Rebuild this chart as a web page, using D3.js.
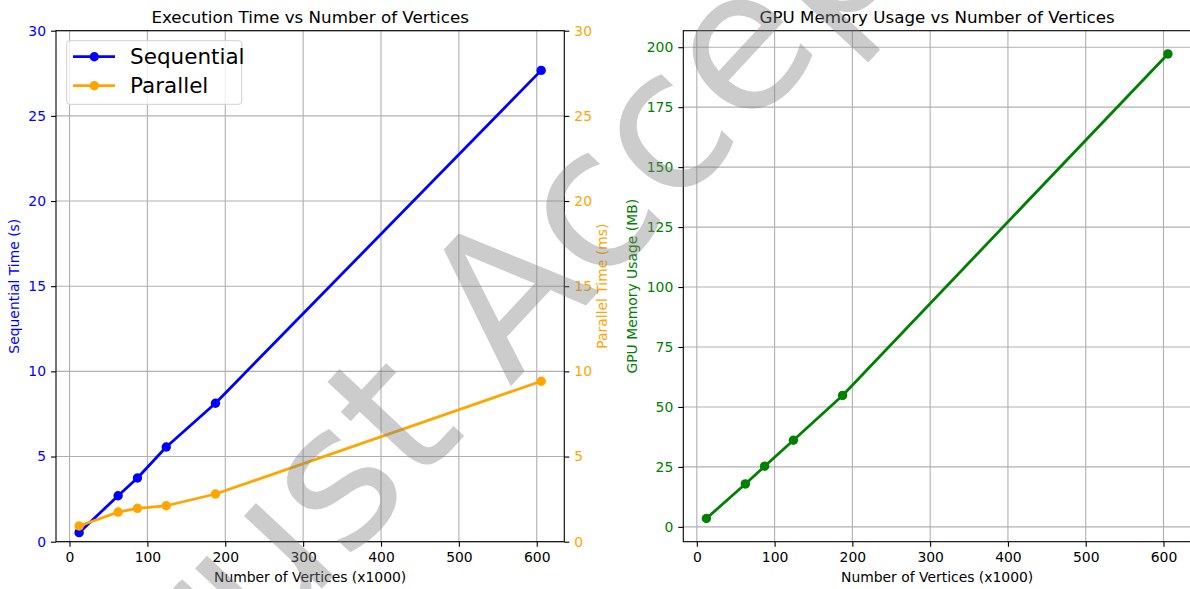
<!DOCTYPE html>
<html><head><meta charset="utf-8">
<script src="https://cdn.jsdelivr.net/npm/d3@7"></script>
<style>
body{margin:0;background:#fff}
svg{display:block}
text{font-family:"DejaVu Sans",sans-serif}
</style>
</head><body>
<svg id="c" width="1190" height="589"></svg>
<script>
// ---- data ----
const vertices = [12.3, 62.4, 87.2, 124.2, 187.4, 605.7];
const sequentialTime = [0.53, 2.70, 3.74, 5.56, 8.13, 27.67];
const parallelTime = [0.92, 1.74, 1.96, 2.11, 2.80, 9.42];
const gpuMemory = [3.5, 17.9, 25.3, 36.1, 54.8, 197.2];
const xTicks = [0, 100, 200, 300, 400, 500, 600];
const timeTicks = [0, 5, 10, 15, 20, 25, 30];
const gpuTicks = [0, 25, 50, 75, 100, 125, 150, 175, 200];
const seriesNames = ["Sequential", "Parallel"];

const BLUE = "#0000ff", ORANGE = "#ffa500", GREEN = "#008000";
const svg = d3.select("#c");
const TICK_FS = "13.9px", LABEL_FS = "13.9px", TITLE_FS = "16.7px";

function padded(arr){
  const mn = d3.min(arr), mx = d3.max(arr), r = mx - mn;
  return [mn - 0.05*r, mx + 0.05*r];
}

const plotTop = 30.7, plotBottom = 541.7;
const L = {left:56, right:564.3};
const R = {left:683.3, right:1191};

const xL = d3.scaleLinear().domain(padded(vertices)).range([L.left, L.right]);
const xR = d3.scaleLinear().domain(padded(vertices)).range([R.left, R.right]);
const ySeq = d3.scaleLinear().domain([0, 30]).range([plotBottom, plotTop]);
const yPar = d3.scaleLinear().domain([0, 30]).range([plotBottom, plotTop]);
const yGpu = d3.scaleLinear().domain(padded(gpuMemory)).range([plotBottom, plotTop]);

const gridColor = "#b0b0b0";

function grid(x, y, xt, yt, box){
  const g = svg.append("g");
  g.selectAll(".gx").data(xt).join("line")
    .attr("x1", d=>x(d)).attr("x2", d=>x(d))
    .attr("y1", plotTop).attr("y2", plotBottom)
    .attr("stroke", gridColor).attr("stroke-width", 1.1);
  g.selectAll(".gy").data(yt).join("line")
    .attr("x1", box.left).attr("x2", box.right)
    .attr("y1", d=>y(d)).attr("y2", d=>y(d))
    .attr("stroke", gridColor).attr("stroke-width", 1.1);
}

function styleAxis(g, color){
  g.select(".domain").remove();
  g.selectAll(".tick line").attr("stroke", "#000").attr("stroke-width", 1.1);
  g.selectAll(".tick text").attr("fill", color).style("font-size", TICK_FS)
    .style("font-family", '"DejaVu Sans", sans-serif');
}

function series(x, y, vals, color){
  const g = svg.append("g");
  const line = d3.line().x((d,i)=>x(vertices[i])).y(d=>y(d));
  g.append("path").datum(vals).attr("d", line)
    .attr("fill", "none").attr("stroke", color).attr("stroke-width", 2.8)
    .attr("stroke-linejoin", "round");
  g.selectAll("circle").data(vals).join("circle")
    .attr("cx", (d,i)=>x(vertices[i])).attr("cy", d=>y(d))
    .attr("r", 4.7).attr("fill", color);
}

// ---- left panel ----
grid(xL, ySeq, xTicks, timeTicks, L);
series(xL, ySeq, sequentialTime, BLUE);
series(xL, yPar, parallelTime, ORANGE);

svg.append("rect").attr("x", L.left).attr("y", plotTop)
  .attr("width", L.right - L.left).attr("height", plotBottom - plotTop)
  .attr("fill", "none").attr("stroke", "#000").attr("stroke-width", 1.1);

const axB1 = svg.append("g").attr("transform", `translate(0,${plotBottom})`)
  .call(d3.axisBottom(xL).tickValues(xTicks).tickSize(5).tickPadding(5));
styleAxis(axB1, "#000");
const axL1 = svg.append("g").attr("transform", `translate(${L.left},0)`)
  .call(d3.axisLeft(ySeq).tickValues(timeTicks).tickSize(5).tickPadding(5));
styleAxis(axL1, BLUE);
const axR1 = svg.append("g").attr("transform", `translate(${L.right},0)`)
  .call(d3.axisRight(yPar).tickValues(timeTicks).tickSize(5).tickPadding(5));
styleAxis(axR1, ORANGE);

// ---- right panel ----
grid(xR, yGpu, xTicks, gpuTicks, R);
series(xR, yGpu, gpuMemory, GREEN);
svg.append("rect").attr("x", R.left).attr("y", plotTop)
  .attr("width", R.right - R.left).attr("height", plotBottom - plotTop)
  .attr("fill", "none").attr("stroke", "#000").attr("stroke-width", 1.1);
const axB2 = svg.append("g").attr("transform", `translate(0,${plotBottom})`)
  .call(d3.axisBottom(xR).tickValues(xTicks).tickSize(5).tickPadding(5));
styleAxis(axB2, "#000");
const axL2 = svg.append("g").attr("transform", `translate(${R.left},0)`)
  .call(d3.axisLeft(yGpu).tickValues(gpuTicks).tickSize(5).tickPadding(5));
styleAxis(axL2, GREEN);

// ---- titles & labels ----
svg.append("text").attr("x", (L.left+L.right)/2).attr("y", 22.7)
  .attr("text-anchor", "middle").style("font-size", TITLE_FS)
  .text("Execution Time vs Number of Vertices");
svg.append("text").attr("x", (R.left+R.right)/2).attr("y", 22.7)
  .attr("text-anchor", "middle").style("font-size", TITLE_FS)
  .text("GPU Memory Usage vs Number of Vertices");
svg.append("text").attr("x", (L.left+L.right)/2).attr("y", 582)
  .attr("text-anchor", "middle").style("font-size", LABEL_FS)
  .text("Number of Vertices (x1000)");
svg.append("text").attr("x", (R.left+R.right)/2).attr("y", 582)
  .attr("text-anchor", "middle").style("font-size", LABEL_FS)
  .text("Number of Vertices (x1000)");
const midY = (plotTop + plotBottom)/2;
function vlabel(x, txt, color){
  svg.append("text").attr("transform", `translate(${x},${midY}) rotate(-90)`)
    .attr("text-anchor", "middle").attr("fill", color).style("font-size", LABEL_FS).text(txt);
}
vlabel(18.5, "Sequential Time (s)", BLUE);
vlabel(606.5, "Parallel Time (ms)", ORANGE);
vlabel(636.5, "GPU Memory Usage (MB)", GREEN);

// ---- legend ----
const lg = svg.append("g");
lg.append("rect").attr("x", 66.7).attr("y", 40.7).attr("width", 175).attr("height", 63.6)
  .attr("rx", 3).attr("fill", "#fff").attr("fill-opacity", 0.8)
  .attr("stroke", "#d0d0d0").attr("stroke-width", 1);
[BLUE, ORANGE].forEach((c, i) => {
  const yy = 56.7 + i*29;
  lg.append("line").attr("x1", 73).attr("x2", 115).attr("y1", yy).attr("y2", yy)
    .attr("stroke", c).attr("stroke-width", 2.8);
  lg.append("circle").attr("cx", 94.3).attr("cy", yy).attr("r", 4.7).attr("fill", c);
  lg.append("text").attr("x", 130).attr("y", yy + 7.7).style("font-size", "21.5px")
    .text(seriesNames[i]);
});

// ---- watermark ----
const fs = 195;
svg.append("text")
  .attr("transform", "translate(676,209) rotate(-47)")
  .attr("x", -3.99*fs).attr("y", 0)
  .style("font-size", fs + "px").attr("fill", "#808080").attr("fill-opacity", 0.4)
  .text("Trust Accepted");
</script>
</body></html>
